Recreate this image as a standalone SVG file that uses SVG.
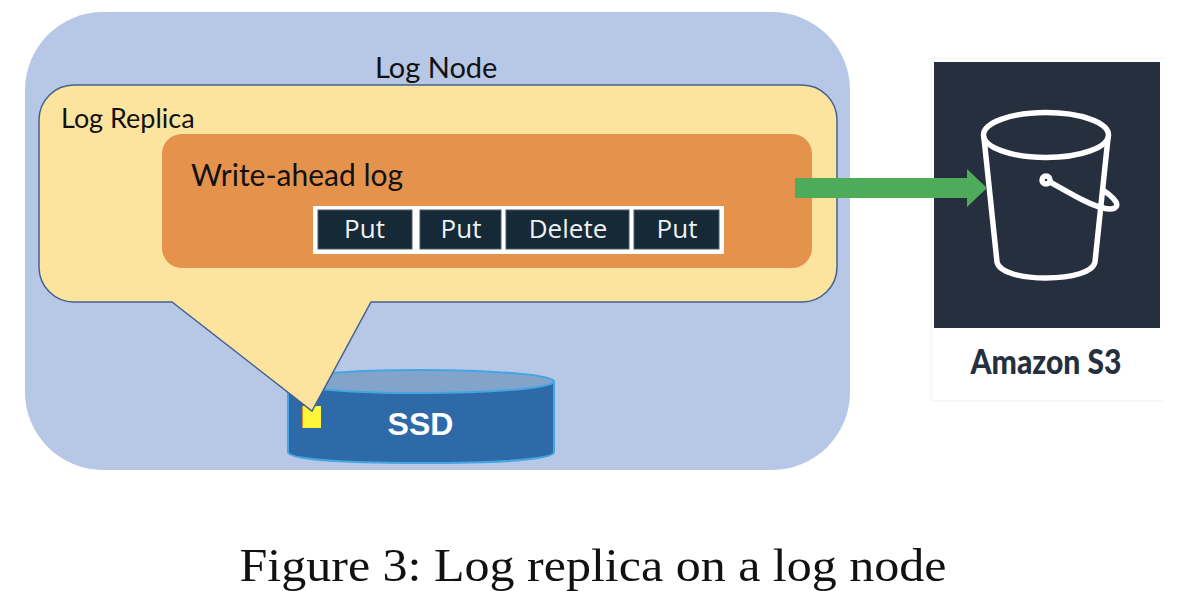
<svg xmlns="http://www.w3.org/2000/svg" width="1193" height="591" viewBox="0 0 1193 591">
<style>
.lb{font-family:Lato,"Open Sans",sans-serif;fill:#111}
.op{font-family:"Open Sans","Noto Sans",sans-serif;font-size:26px;fill:#eef2f5;text-anchor:middle}
.opb{fill:#162936;stroke:#4b5a6b;stroke-width:1}
.bk{fill:none;stroke:#fff;stroke-width:5.5;stroke-linecap:round;stroke-linejoin:round}
</style>
<rect width="1193" height="591" fill="#fff"/>
<g id="log-node">
<rect x="25" y="12" width="825" height="458" rx="78" fill="#b7c7e6"/>
<text class="lb" x="375" y="78" font-size="29">Log Node</text>
</g>
<g id="ssd">
<path d="M288 381.500V452C288 458 330 463 421 463S554 458 554 452V381.500Z" fill="#2e69a8" stroke="#45a5e0" stroke-width="2"/>
<ellipse cx="421" cy="381.500" rx="133" ry="11.500" fill="#82a4cb" stroke="#45a5e0" stroke-width="2"/>
<text x="420.500" y="435" font-family="'Liberation Sans',sans-serif" font-weight="700" font-size="32" fill="#fff" text-anchor="middle">SSD</text>
</g>
<g id="yellow-block">
<rect x="302.500" y="406" width="18.500" height="22" fill="#fdf73a"/>
<path d="M302.500 406V428" stroke="#e0902e" stroke-width="1" fill="none"/>
</g>
<g id="log-replica">
<path d="M74 85H802A35 35 0 0 1 837 120V267A35 35 0 0 1 802 302H371L312 411L172 302H74A35 35 0 0 1 39 267V120A35 35 0 0 1 74 85Z" fill="#fde49e" stroke="#44628f" stroke-width="1.500"/>
<text class="lb" x="61" y="128" font-size="27">Log Replica</text>
</g>
<g id="write-ahead-log">
<rect x="162" y="134" width="650" height="134" rx="20" fill="#e5924d"/>
<text class="lb" x="191" y="186" font-size="30">Write-ahead log</text>
</g>
<g id="log-entries">
<rect x="313" y="206" width="411" height="48" fill="#fff"/>
<g id="entry-1"><rect class="opb" x="318" y="210" width="94" height="39"/><text class="op" x="364.500" y="238">Put</text></g>
<g id="entry-2"><rect class="opb" x="420" y="210" width="81" height="39"/><text class="op" x="461" y="238">Put</text></g>
<g id="entry-3"><rect class="opb" x="506" y="210" width="123" height="39"/><text class="op" x="568" y="238">Delete</text></g>
<g id="entry-4"><rect class="opb" x="634" y="210" width="85" height="39"/><text class="op" x="677" y="238">Put</text></g>
</g>
<g id="amazon-s3">
<path d="M1165 58H931V401H1165" fill="#fff" stroke="#f0f1f2" stroke-width="1"/>
<rect x="934" y="62" width="226" height="266" fill="#262f3e"/>
<ellipse class="bk" cx="1046" cy="135" rx="62.500" ry="22.500"/>
<path class="bk" d="M984 138L997 262C999 272 1020 278 1046 278S1093 272 1095 262L1108 138"/>
<circle class="bk" cx="1046" cy="180" r="4"/>
<path class="bk" d="M1050 182C1075 196 1090 205 1103 208C1114 211 1119 207 1116 202C1113 197 1106 192 1104 191"/>
<text x="1046" y="374" font-family="Lato,sans-serif" font-weight="900" font-size="34" fill="#262f3e" text-anchor="middle" textLength="151" lengthAdjust="spacingAndGlyphs">Amazon S3</text>
</g>
<g id="connectors">
<path d="M795 178H967V169L987 188L967 207V198H795Z" fill="#4dab59"/>
</g>
<text x="593" y="581" font-family="'Liberation Serif',serif" font-size="47" fill="#111" text-anchor="middle" textLength="707" lengthAdjust="spacingAndGlyphs">Figure 3: Log replica on a log node</text>
</svg>
